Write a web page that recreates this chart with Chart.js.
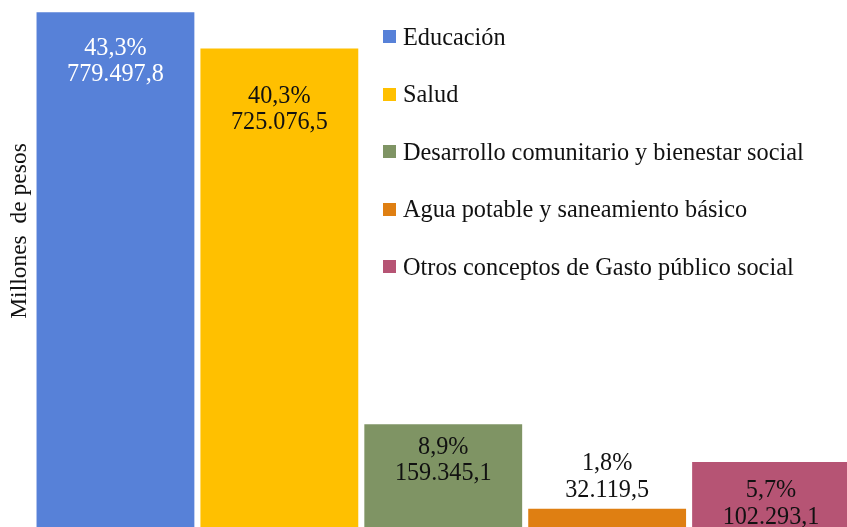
<!DOCTYPE html>
<html><head><meta charset="utf-8">
<script src="https://cdn.jsdelivr.net/npm/chart.js@4/dist/chart.umd.min.js"></script>
<style>
html,body{margin:0;padding:0;background:#fff;overflow:hidden;width:847px;height:527px}
#wrap{position:absolute;left:0;top:0;width:853px;height:530px}
#legend{position:absolute;left:383px;top:8px;font-family:"Liberation Serif","Times New Roman",serif;font-size:24.3px;color:#111}
#legend .it{display:flex;align-items:center;height:57.5px;white-space:nowrap}
#legend .sw{width:13px;height:13px;margin-right:7px;flex:none}
</style></head>
<body>
<div id="wrap"><canvas id="c"></canvas></div>
<div id="legend"></div>
<script>
const categories = ["Educación","Salud","Desarrollo comunitario y bienestar social","Agua potable y saneamiento básico","Otros conceptos de Gasto público social"];
const values = [779497.8, 725076.5, 159345.1, 32119.5, 102293.1];
const percents = ["43,3%","40,3%","8,9%","1,8%","5,7%"];
const valueLabels = ["779.497,8","725.076,5","159.345,1","32.119,5","102.293,1"];
const yTitle = "Millones  de pesos";

const colors = ["#5781D8","#FFC000","#7F9464","#DF7F12","#B65474"];
const labelColors = ["#ffffff","#111111","#111111","#111111","#111111"];
const labelOffsets = [36, 48, 23, -45, 29];
const FONT = '"Liberation Serif","Times New Roman",serif';

const labelPlugin = {
  id:'barLabels',
  afterDatasetsDraw(chart){
    const ctx = chart.ctx;
    const meta = chart.getDatasetMeta(0);
    ctx.save();
    ctx.font = '24.2px ' + FONT;
    ctx.textAlign = 'center';
    ctx.textBaseline = 'middle';
    meta.data.forEach((bar,i)=>{
      const y = bar.y + labelOffsets[i];
      ctx.fillStyle = labelColors[i];
      ctx.fillText(percents[i], bar.x, y);
      ctx.fillText(valueLabels[i], bar.x, y + 26.5);
    });
    ctx.restore();
  }
};
const titlePlugin = {
  id:'yTitle',
  afterDraw(chart){
    const ctx = chart.ctx;
    ctx.save();
    ctx.translate(20, 231);
    ctx.rotate(-Math.PI/2);
    ctx.font = '23.5px ' + FONT;
    ctx.fillStyle = '#111';
    ctx.textAlign = 'center';
    ctx.textBaseline = 'middle';
    ctx.fillText(yTitle, 0, 0);
    ctx.restore();
  }
};

const chart = new Chart(document.getElementById('c'), {
  type:'bar',
  data:{labels:categories, datasets:[{data:values, backgroundColor:colors, borderWidth:0}]},
  options:{
    responsive:true, maintainAspectRatio:false, animation:false,
    layout:{padding:{left:33.5,top:0,right:0,bottom:0}},
    plugins:{legend:{display:false}, tooltip:{enabled:false}},
    datasets:{bar:{barPercentage:0.963, categoryPercentage:1}},
    scales:{
      x:{display:false},
      y:{display:false, min:0, max:798000}
    }
  },
  plugins:[labelPlugin,titlePlugin]
});

const lg = document.getElementById('legend');
categories.forEach((c,i)=>{
  const d = document.createElement('div'); d.className='it';
  const s = document.createElement('span'); s.className='sw'; s.style.background = colors[i];
  const t = document.createElement('span'); t.textContent = c;
  d.appendChild(s); d.appendChild(t); lg.appendChild(d);
});
</script>
</body></html>
